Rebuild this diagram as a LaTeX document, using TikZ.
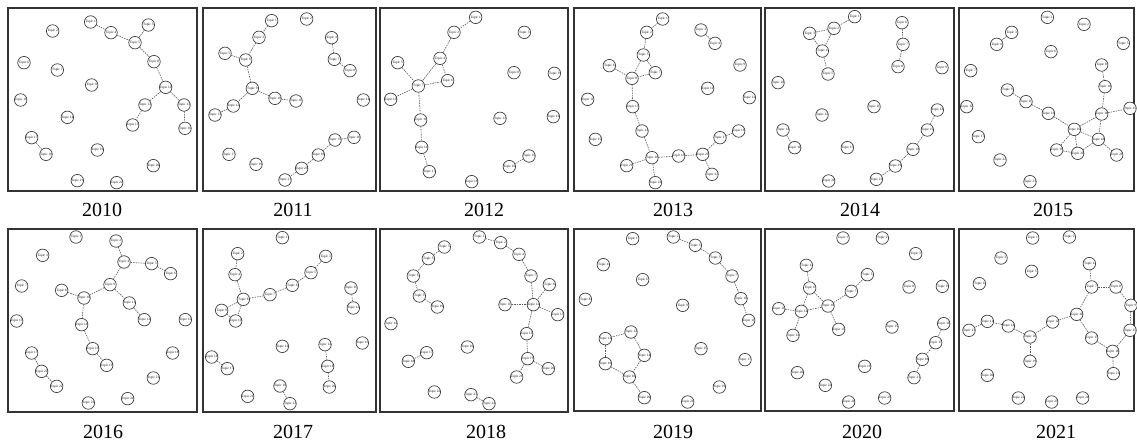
\documentclass[tikz,border=0pt]{standalone}
\usepackage{fontspec}
\setmainfont{Liberation Serif}
\tikzset{
 topic/.style={circle, draw=black!75, line width=0.7pt, minimum size=12.5pt, inner sep=0pt, font=\fontsize{3.4}{4}\selectfont, fill=white},
 link/.style={draw=black!65, line width=0.6pt, dash pattern=on 1.5pt off 1pt},
 frame/.style={draw=black!80, line width=1.1pt},
 year/.style={font=\fontsize{20}{24}\selectfont},
 zoomed/.style={x=0.33333pt, y=-0.33333pt}
}
\begin{document}
\begin{tikzpicture}[x=1pt,y=-1pt]
\useasboundingbox (0,0) rectangle (1137,444);
% frames
\draw[frame] (8,8) rectangle (197,191);
\draw[frame] (203,8) rectangle (376,191);
\draw[frame] (380,8) rectangle (568,191);
\draw[frame] (574,8) rectangle (761,191);
\draw[frame] (765,8) rectangle (954,191);
\draw[frame] (959,8) rectangle (1134,191);
\draw[frame] (8,229) rectangle (197,412);
\draw[frame] (203,229) rectangle (376,412);
\draw[frame] (380,229) rectangle (568,412);
\draw[frame] (574,229) rectangle (761,411);
\draw[frame] (765,229) rectangle (954,411);
\draw[frame] (959,229) rectangle (1134,411);
% years
\node[year] (y10) at (102,210) {2010};
\node[year] (y11) at (293,210) {2011};
\node[year] (y12) at (484,210) {2012};
\node[year] (y13) at (673,210) {2013};
\node[year] (y14) at (860,210) {2014};
\node[year] (y15) at (1053,210) {2015};
\node[year] (y16) at (103,432) {2016};
\node[year] (y17) at (293,432) {2017};
\node[year] (y18) at (486,432) {2018};
\node[year] (y19) at (673,432) {2019};
\node[year] (y20) at (862,432) {2020};
\node[year] (y21) at (1056,432) {2021};

% 2010
\begin{scope}[xshift=0pt, yshift=0pt, zoomed]
\foreach \n/\px/\py in {1/272/66,2/158/93,3/445/75,4/333/98,5/405/128,6/72/188,7/172/210,8/462/185,9/275/255,10/497/262,11/62/300,12/435/315,13/552/315,14/202/352,15/398/375,16/555/385,17/95/413,18/138/463,19/292/450,20/460/497,21/232/542,22/350/548}
  \node[topic] (a\n) at (\px,\py) {Topic \n};
\foreach \s/\t in {1/4,4/5,3/5,5/8,8/10,10/12,10/13,12/15,13/16,17/18}
  \draw[link] (a\s) -- (a\t);
\end{scope}

% 2011
\begin{scope}[xshift=195pt, yshift=0pt, zoomed]
\foreach \n/\px/\py in {1/230/62,2/335/57,3/192/112,4/410/113,5/90/160,6/152/180,7/418/178,8/465/212,9/172/265,10/240/295,11/303/303,12/115/318,13/60/345,14/505/300,15/420/420,16/477/412,17/102/463,18/370/465,19/183/493,20/320/505,21/270/540}
  \node[topic] (b\n) at (\px,\py) {Topic \n};
\foreach \s/\t in {1/3,3/6,5/6,6/9,9/10,10/11,9/12,12/13,4/7,7/8,15/16,15/18,18/20,20/21}
  \draw[link] (b\s) -- (b\t);
\end{scope}

% 2012
\begin{scope}[xshift=375pt, yshift=0pt, zoomed]
\foreach \n/\px/\py in {1/302/52,2/237/97,3/448/97,4/195/175,5/68/188,6/218/242,7/130/258,8/417/218,9/538/220,10/47/298,11/137/360,12/375/355,13/535/350,14/140/442,15/462/468,16/403/500,17/163/515,18/290/545}
  \node[topic] (c\n) at (\px,\py) {Topic \n};
\foreach \s/\t in {1/2,2/4,4/7,4/6,6/7,5/7,7/10,7/11,11/14,14/17,15/16}
  \draw[link] (c\s) -- (c\t);
\end{scope}

% 2013
\begin{scope}[xshift=566pt, yshift=0pt, zoomed]
\foreach \n/\px/\py in {1/290/57,2/242/97,3/405/90,4/447/130,5/232/165,6/130/197,7/268/218,8/198/235,9/522/195,10/425/265,11/65/298,12/550/293,13/200/320,14/228/393,15/88/418,16/518/393,17/462/413,18/258/473,19/338/468,20/410/463,21/182/497,22/438/523,23/268/548}
  \node[topic] (d\n) at (\px,\py) {Topic \n};
\foreach \s/\t in {1/2,2/5,5/7,5/8,7/8,6/8,8/13,13/14,14/18,18/21,18/23,18/19,19/20,20/17,17/16,20/22,3/4}
  \draw[link] (d\s) -- (d\t);
\end{scope}

% 2014
\begin{scope}[xshift=758pt, yshift=0pt, zoomed]
\foreach \n/\px/\py in {1/290/50,2/228/85,3/155/100,4/193/153,5/210/222,6/432/68,7/435/133,8/420/200,9/552/203,10/60/248,11/348/320,12/192/345,13/538/330,14/75/390,15/508/390,16/110/443,17/268/443,18/465/448,19/412/498,20/212/543,21/355/538}
  \node[topic] (e\n) at (\px,\py) {Topic \n};
\foreach \s/\t in {1/2,2/3,3/4,2/4,4/5,6/7,7/8,14/16,13/15,15/18,18/19,19/21}
  \draw[link] (e\s) -- (e\t);
\end{scope}

% 2015
\begin{scope}[xshift=950pt, yshift=0pt, zoomed]
\foreach \n/\px/\py in {1/292/52,2/402/73,3/185/97,4/140/133,5/520/130,6/303/155,7/62/212,8/455/195,9/172/270,10/465/260,11/228/305,12/50/320,13/295/340,14/455/342,15/540/325,16/373/388,17/85/410,18/445/418,19/320/450,20/383/460,21/500/465,22/150/480,23/240/545}
  \node[topic] (f\n) at (\px,\py) {Topic \n};
\foreach \s/\t in {3/4,8/10,10/14,14/15,9/11,11/13,13/16,16/14,16/18,14/18,16/19,16/20,19/20,20/18,18/21}
  \draw[link] (f\s) -- (f\t);
\end{scope}

% 2016
\begin{scope}[xshift=0pt, yshift=-222pt, zoomed]
\foreach \n/\px/\py in {1/228/45,2/348/57,3/128/100,4/372/120,5/455/125,6/512/155,7/65/192,8/185/205,9/330/188,10/252/228,11/388/243,12/433/293,13/50/297,14/245/308,15/556/293,16/278/380,17/95/393,18/518/393,19/320/430,20/125/448,21/460/468,22/170/493,23/265/543,24/383/530}
  \node[topic] (g\n) at (\px,\py) {Topic \n};
\foreach \s/\t in {2/4,4/5,5/6,4/9,9/10,8/10,10/14,14/16,16/19,9/11,11/12,17/20,20/22}
  \draw[link] (g\s) -- (g\t);
\end{scope}

% 2017
\begin{scope}[xshift=195pt, yshift=-222pt, zoomed]
\foreach \n/\px/\py in {1/262/47,2/128/95,3/392/103,4/120/158,5/348/152,6/292/190,7/225/218,8/145/232,9/80/265,10/122/297,11/468/198,12/475/258,13/262/373,14/390/368,15/502/363,16/50/405,17/97/440,18/398/433,19/255/492,20/403/495,21/158/523,22/285/545}
  \node[topic] (h\n) at (\px,\py) {Topic \n};
\foreach \s/\t in {3/5,5/6,6/7,7/8,2/4,4/8,8/9,8/10,9/10,11/12,14/18,18/20,16/17,19/22}
  \draw[link] (h\s) -- (h\t);
\end{scope}

% 2018
\begin{scope}[xshift=375pt, yshift=-222pt, zoomed]
\foreach \n/\px/\py in {1/313/45,2/377/62,3/208/75,4/432/97,5/160/110,6/115/162,7/468/162,8/523/188,9/133/222,10/187/255,11/390/248,12/475/248,13/548/278,14/48/305,15/455/335,16/277/375,17/155/392,18/100/418,19/458/410,20/520/440,21/425/465,22/178/510,23/288/518,24/342/545}
  \node[topic] (i\n) at (\px,\py) {Topic \n};
\foreach \s/\t in {1/2,2/4,4/7,7/12,8/12,11/12,12/13,12/15,15/19,19/20,19/21,3/5,5/6,6/9,9/10,17/18,23/24}
  \draw[link] (i\s) -- (i\t);
\end{scope}

% 2019
\begin{scope}[xshift=566pt, yshift=-222pt, zoomed]
\foreach \n/\px/\py in {1/200/50,2/322/45,3/388/70,4/112/128,5/448/108,6/230/173,7/498/162,8/58/232,9/350/250,10/525/230,11/548/295,12/195/330,13/118/350,14/235/400,15/405/380,16/118/425,17/537/413,18/190/465,19/460/495,20/235/527,21/365/540}
  \node[topic] (j\n) at (\px,\py) {Topic \n};
\foreach \s/\t in {2/3,3/5,5/7,7/10,10/11,12/13,12/14,13/16,16/18,14/18,18/20}
  \draw[link] (j\s) -- (j\t);
\end{scope}

% 2020
\begin{scope}[xshift=758pt, yshift=-222pt, zoomed]
\foreach \n/\px/\py in {1/255/48,2/373/48,3/473/95,4/145/130,5/328/158,6/155/198,7/280/208,8/453/195,9/553/193,10/210/252,11/62/260,12/130/268,13/242/322,14/105/340,15/402/315,16/557/305,17/533/362,18/493/412,19/320/433,20/118/452,21/468/467,22/202/490,23/380/528,24/272/540}
  \node[topic] (k\n) at (\px,\py) {Topic \n};
\foreach \s/\t in {4/6,6/10,6/12,10/12,11/12,12/14,10/13,10/7,7/5,16/17,17/18,18/21}
  \draw[link] (k\s) -- (k\t);
\end{scope}

% 2021
\begin{scope}[xshift=950pt, yshift=-222pt, zoomed]
\foreach \n/\px/\py in {1/248/48,2/358/45,3/153/108,4/418/125,5/245/148,6/88/185,7/425/195,8/498/195,9/543/250,10/380/277,11/112/298,12/308/300,13/57/325,14/175/312,15/540/325,16/240/345,17/425/348,18/488/388,19/240/418,20/112/460,21/490/455,22/205/528,23/305/540,24/398/528}
  \node[topic] (l\n) at (\px,\py) {Topic \n};
\foreach \s/\t in {4/7,7/8,8/9,9/15,15/18,17/18,10/17,7/10,10/12,12/16,16/14,14/11,11/13,16/19,18/21}
  \draw[link] (l\s) -- (l\t);
\end{scope}
\end{tikzpicture}
\end{document}
